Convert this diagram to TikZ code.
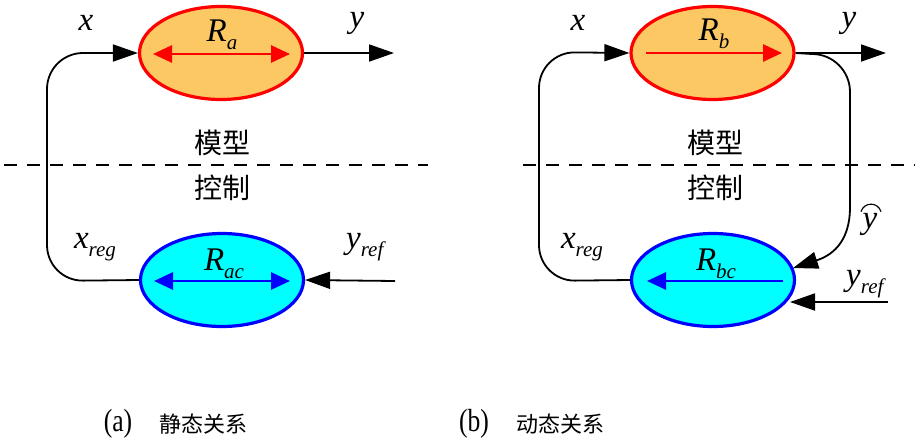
\documentclass[tikz,border=0pt]{standalone}
\usepackage{fontspec}
\setmainfont{Liberation Serif}
\newfontfamily\cjk{Noto Sans CJK SC}
\newfontfamily\capfont[FakeStretch=0.8]{Liberation Serif}
\usetikzlibrary{arrows.meta,shapes.geometric,calc}
\definecolor{orfill}{RGB}{252,200,100}
\definecolor{cyfill}{RGB}{0,255,255}
\newcommand\lab[2]{\textit{#1}\raisebox{-0.26em}{\fontsize{21}{21}\selectfont\textit{#2}}}
\begin{document}
\begin{tikzpicture}[x=1pt,y=-1pt,
  ell/.style={ellipse,draw,line width=3.2pt,minimum width=163pt,minimum height=93pt,inner sep=0pt},
  modelell/.style={ell,draw=red,fill=orfill},
  ctrlell/.style={ell,draw=blue,fill=cyfill},
  arr/.style={line width=1.8pt,-{Triangle[length=25pt,width=17pt]}},
  loopline/.style={arr,rounded corners=36pt},
  redarr/.style={draw=red,line width=2.8pt},
  bluearr/.style={draw=blue,line width=2.8pt},
  sepline/.style={line width=1.5pt,dash pattern=on 13pt off 10pt},
  lbl/.style={font=\fontsize{33}{35}\selectfont,inner sep=0pt},
  zh/.style={font=\fontsize{28}{30}\selectfont\cjk,inner sep=0pt},
  captxt/.style={font=\fontsize{32}{34}\selectfont\capfont,inner sep=0pt},
  capzh/.style={font=\fontsize{22}{24}\selectfont\cjk,inner sep=0pt}]
\useasboundingbox (0,0) rectangle (915,445);

% ---------- (a) ----------
\node[modelell] (Ra) at (221,53) {};
\node[ctrlell] (Rac) at (222,280) {};
\node[lbl] (Ralab) at (222,35) {\lab{R}{a}};
\node[lbl] (Raclab) at (224,264) {\lab{R}{ac}};
\coordinate (ra1) at (153,54);
\coordinate (ra2) at (290,54);
\draw[redarr,{Triangle[length=19pt,width=17pt]}-{Triangle[length=19pt,width=17pt]}] (ra1) -- (ra2);
\coordinate (rac1) at (154,281);
\coordinate (rac2) at (290,281);
\draw[bluearr,{Triangle[length=19pt,width=17pt]}-{Triangle[length=19pt,width=17pt]}] (rac1) -- (rac2);
\coordinate (aL1) at (47,281);
\coordinate (aL2) at (47,53);
\draw[loopline] (Rac.west) -- (aL1) -- (aL2) -- (Ra.west);
\coordinate (aout) at (394,53);
\draw[arr] (Ra.east) -- (aout);
\coordinate (arefin) at (395,281);
\draw[arr] (arefin) -- (Rac.east);
\node[lbl] (ax) at (86,23) {\textit{x}};
\node[lbl] (ay) at (357,23) {\textit{y}};
\node[lbl] (axreg) at (95,247) {\lab{x}{reg}};
\node[lbl] (ayref) at (366,247) {\lab{y}{ref}};
\coordinate (ad1) at (4,165);
\coordinate (ad2) at (428,165);
\draw[sepline] (ad1) -- (ad2);
\node[zh] (am) at (222,143) {模型};
\node[zh] (ac) at (222,188) {控制};
\node[captxt] (capa) at (118,424) {(a)};
\node[capzh] (capazh) at (203,424) {静态关系};

% ---------- (b) ----------
\node[modelell] (Rb) at (712.5,53) {};
\node[ctrlell] (Rbc) at (713,280) {};
\node[lbl] (Rblab) at (714,34) {\lab{R}{b}};
\node[lbl] (Rbclab) at (716,264) {\lab{R}{bc}};
\coordinate (rb1) at (646,53);
\coordinate (rb2) at (782,53);
\draw[redarr,-{Triangle[length=19pt,width=17pt]}] (rb1) -- (rb2);
\coordinate (rbc1) at (783,281);
\coordinate (rbc2) at (647,281);
\draw[bluearr,-{Triangle[length=19pt,width=17pt]}] (rbc1) -- (rbc2);
\coordinate (bL1) at (539,281);
\coordinate (bL2) at (539,52);
\draw[loopline] (Rbc.west) -- (bL1) -- (bL2) -- (Rb.west);
\coordinate (bout) at (886,53);
\draw[arr] (Rb.east) -- (bout);
\coordinate (bh1) at (812,54);
\coordinate (bh2) at (850,92);
\coordinate (bh3) at (850,207);
\coordinate (bhend) at (793,268);
\draw[arr] (Rb.east) -- (bh1) .. controls (833,54) and (850,71) .. (bh2) -- (bh3) .. controls (850,244) and (830,256) .. (bhend);
\coordinate (brefin) at (888,302);
\coordinate (brefend) at (790,302);
\draw[arr] (brefin) -- (brefend);
\node[lbl] (bx) at (578,23) {\textit{x}};
\node[lbl] (by) at (849,23) {\textit{y}};
\node[lbl] (bxreg) at (582,247) {\lab{x}{reg}};
\node[lbl] (byref) at (866,284) {\lab{y}{ref}};
\node[lbl] (byhat) at (870,224) {\textit{y}};
\draw[line width=1.1pt] ($(byhat.north)+(-9,-1)$) .. controls ($(byhat.north)+(-6,-11)$) and ($(byhat.north)+(8,-11)$) .. ($(byhat.north)+(11,-1)$);
\coordinate (bd1) at (523,165);
\coordinate (bd2) at (915,165);
\draw[sepline] (bd1) -- (bd2);
\node[zh] (bm) at (715,143) {模型};
\node[zh] (bc) at (715,188) {控制};
\node[captxt] (capb) at (474,424) {(b)};
\node[capzh] (capbzh) at (560,424) {动态关系};
\end{tikzpicture}
\end{document}
